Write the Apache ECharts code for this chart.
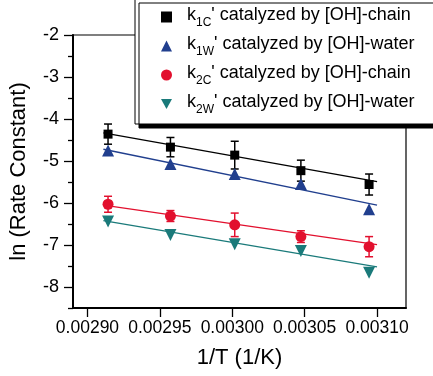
<!DOCTYPE html>
<html>
<head>
<meta charset="utf-8">
<script src="https://cdn.jsdelivr.net/npm/echarts@6/dist/echarts.min.js"></script>
<style>
html,body{margin:0;padding:0;background:#fff;}
#chart{width:433px;height:376px;}
</style>
</head>
<body>
<div id="chart"></div>
<script>
// ---- data ----
var invT = [0.0029142, 0.0029573, 0.0030017, 0.0030474, 0.0030945];
var k1C = [-4.36, -4.67, -4.86, -5.23, -5.56];
var k1C_err = [0.24, 0.23, 0.33, 0.25, 0.25];
var k1W = [-4.75, -5.07, -5.31, -5.55, -6.15];
var k2C = [-6.03, -6.31, -6.52, -6.80, -7.04];
var k2C_err = [0.19, 0.13, 0.28, 0.14, 0.24];
var k2W = [-6.44, -6.76, -6.98, -7.14, -7.66];
var fitX = [0.002911, 0.003100];
var fit1C = [-4.33, -5.49];
var fit1W = [-4.72, -6.05];
var fit2C = [-6.05, -6.99];
var fit2W = [-6.42, -7.52];
var xTicks = [0.00290, 0.00295, 0.00300, 0.00305, 0.00310];
var yTicks = [-8, -7, -6, -5, -4, -3, -2];
var yMinorTicks = [-8.5, -7.5, -6.5, -5.5, -4.5, -3.5, -2.5];
var legendNames = ['k1C', 'k1W', 'k2C', 'k2W'];
var legendSuffix = {k1C: 'chain', k1W: 'water', k2C: 'chain', k2W: 'water'};

var C_BLACK = '#000000', C_BLUE = '#213f8e', C_RED = '#e2102e', C_TEAL = '#1a7a7a';
var FONT = '"Liberation Sans", Arial, sans-serif';
var downTri = 'path://M0,0 L10,0 L5,9 Z';

function pairs(xs, ys) { return xs.map(function (x, i) { return [x, ys[i]]; }); }
function errData(xs, ys, es) { return xs.map(function (x, i) { return [x, ys[i] - es[i], ys[i] + es[i]]; }); }

function errSeries(data, color) {
  return {
    type: 'custom', data: data, z: 2, silent: true,
    renderItem: function (params, api) {
      var x = api.value(0);
      var lo = api.coord([x, api.value(1)]);
      var hi = api.coord([x, api.value(2)]);
      var cw = 4;
      var st = {stroke: color, lineWidth: 1.5};
      return {type: 'group', children: [
        {type: 'line', shape: {x1: lo[0], y1: lo[1], x2: hi[0], y2: hi[1]}, style: st},
        {type: 'line', shape: {x1: lo[0] - cw, y1: lo[1], x2: lo[0] + cw, y2: lo[1]}, style: st},
        {type: 'line', shape: {x1: hi[0] - cw, y1: hi[1], x2: hi[0] + cw, y2: hi[1]}, style: st}
      ]};
    }
  };
}
function fitSeries(ys, color) {
  return {type: 'line', data: pairs(fitX, ys), symbol: 'none', silent: true, z: 1,
    lineStyle: {color: color, width: 1.3}};
}
function ptSeries(name, ys, color, symbol, size) {
  return {type: 'scatter', name: name, data: pairs(invT, ys), symbol: symbol, symbolSize: size,
    itemStyle: {color: color, opacity: 1}, z: 3};
}

var chart = echarts.init(document.getElementById('chart'), null, {renderer: 'canvas'});
chart.setOption({
  animation: false,
  backgroundColor: '#ffffff',
  textStyle: {fontFamily: FONT},
  grid: {left: 67, right: 27, top: 35, bottom: 68, show: true, borderColor: '#000', borderWidth: 1.2, backgroundColor: 'transparent'},
  legend: {
    orient: 'vertical', left: 135, top: -1,
    padding: [7, 19, 8, 26],
    itemGap: 6, itemWidth: 11, itemHeight: 11,
    backgroundColor: '#fff', borderColor: '#000', borderWidth: 1,
    shadowColor: '#000', shadowOffsetX: 4, shadowOffsetY: 4, shadowBlur: 0,
    data: [
      {name: 'k1C', icon: 'rect'},
      {name: 'k1W', icon: 'triangle'},
      {name: 'k2C', icon: 'circle'},
      {name: 'k2W', icon: downTri}
    ],
    formatter: function (name) {
      return '{k|k}{s|' + name.slice(1) + '}{t|\' catalyzed by [OH]-' + legendSuffix[name] + '}';
    },
    textStyle: {
      fontFamily: FONT, color: '#000',
      rich: {
        k: {fontFamily: FONT, fontSize: 18, lineHeight: 22, verticalAlign: 'top', padding: [0, 0, 0, 10], color: '#000'},
        s: {fontFamily: FONT, fontSize: 12, lineHeight: 12, verticalAlign: 'top', padding: [11, 0, 0, 0], color: '#000'},
        t: {fontFamily: FONT, fontSize: 18, lineHeight: 22, verticalAlign: 'top', color: '#000'}
      }
    }
  },
  xAxis: [{
    type: 'value', min: 0.00289, max: 0.00312,
    name: '1/T (1/K)', nameLocation: 'middle', nameGap: 39,
    nameTextStyle: {fontSize: 22, color: '#000'},
    axisLine: {show: true, onZero: false, lineStyle: {color: '#000', width: 2}},
    axisTick: {show: true, inside: false, length: 9, customValues: xTicks, lineStyle: {color: '#000', width: 1.3}},
    axisLabel: {show: true, margin: 11, customValues: xTicks, fontSize: 17.5, color: '#000',
      formatter: function (v) { return Number(v).toFixed(5); }},
    splitLine: {show: false}
  }],
  yAxis: [{
    type: 'value', min: -8.5, max: -2,
    name: 'ln (Rate Constant)', nameLocation: 'middle', nameGap: 43,
    nameTextStyle: {fontSize: 22, color: '#000'},
    axisLine: {show: true, onZero: false, lineStyle: {color: '#000', width: 2}},
    axisTick: {show: true, inside: false, length: 9, customValues: yTicks, lineStyle: {color: '#000', width: 1.3}},
    axisLabel: {show: true, margin: 14, customValues: yTicks, fontSize: 18, color: '#000',
      formatter: function (v) { return String(Math.round(v)); }},
    splitLine: {show: false}
  }, {
    type: 'value', min: -8.5, max: -2, position: 'left',
    axisLine: {show: false},
    axisTick: {show: true, inside: false, length: 5, customValues: yMinorTicks, lineStyle: {color: '#000', width: 1.3}},
    axisLabel: {show: false},
    splitLine: {show: false}
  }],
  series: [
    fitSeries(fit1C, C_BLACK),
    fitSeries(fit1W, C_BLUE),
    fitSeries(fit2C, C_RED),
    fitSeries(fit2W, C_TEAL),
    errSeries(errData(invT, k1C, k1C_err), C_BLACK),
    errSeries(errData(invT, k2C, k2C_err), C_RED),
    ptSeries('k1C', k1C, C_BLACK, 'rect', 9),
    ptSeries('k1W', k1W, C_BLUE, 'triangle', 12),
    ptSeries('k2C', k2C, C_RED, 'circle', 11),
    ptSeries('k2W', k2W, C_TEAL, downTri, 12)
  ]
});
</script>
</body>
</html>
